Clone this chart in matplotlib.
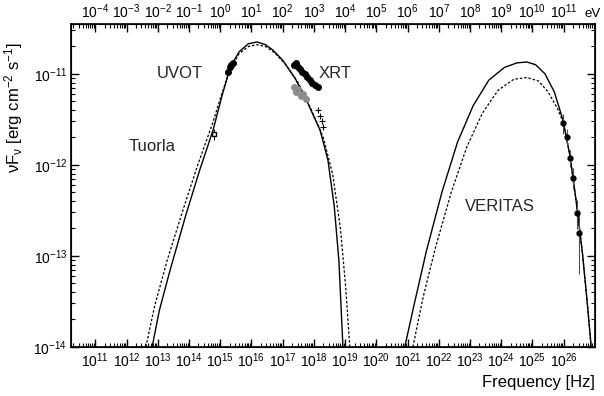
import numpy as np
import matplotlib
matplotlib.use("Agg")
import matplotlib.pyplot as plt
from matplotlib.ticker import LogLocator, NullFormatter

plt.rcParams['font.family'] = ['Liberation Sans', 'DejaVu Sans']
plt.rcParams['mathtext.fontset'] = 'custom'
plt.rcParams['mathtext.rm'] = 'Liberation Sans'
plt.rcParams['mathtext.it'] = 'Liberation Sans:italic'
plt.rcParams['mathtext.default'] = 'regular'

# model curves as (log10 nu, log10 nuFnu)
sync_solid_lognu = [12.82, 13.05, 13.4, 13.9, 14.35, 14.77, 15.05, 15.32, 15.6, 15.9, 16.18,
                    16.45, 16.69, 17.0, 17.4, 17.8, 18.2, 18.45, 18.65, 18.8, 18.93]
sync_solid_logf = [-14.0, -13.6, -13.15, -12.55, -12.05, -11.62, -11.25, -10.93, -10.76, -10.67, -10.65,
                   -10.68, -10.74, -10.85, -11.05, -11.32, -11.62, -11.95, -12.45, -13.05, -14.0]

sync_dash_lognu = [12.62, 12.9, 13.3, 13.85, 14.3, 14.75, 15.05, 15.32, 15.6, 15.9, 16.18,
                   16.45, 16.75, 17.1, 17.5, 17.9, 18.3, 18.6, 18.85, 19.02, 19.15]
sync_dash_logf = [-14.0, -13.55, -13.05, -12.45, -11.98, -11.55, -11.22, -10.95, -10.78, -10.7, -10.68,
                  -10.7, -10.77, -10.9, -11.1, -11.38, -11.7, -12.1, -12.7, -13.35, -14.0]

ic_solid_lognu = [20.91, 21.2, 21.6, 22.1, 22.6, 23.1, 23.6, 24.1, 24.5, 24.82,
                  25.1, 25.4, 25.7, 25.97, 26.2, 26.4, 26.6, 26.75, 26.88]
ic_solid_logf = [-14.0, -13.55, -12.95, -12.3, -11.75, -11.35, -11.07, -10.93, -10.88, -10.87,
                 -10.9, -11.0, -11.2, -11.5, -11.9, -12.4, -12.97, -13.5, -14.0]

ic_dash_lognu = [21.17, 21.5, 21.9, 22.4, 22.9, 23.4, 23.9, 24.4, 24.82,
                 25.2, 25.5, 25.8, 26.0, 26.2, 26.4, 26.6, 26.75, 26.88]
ic_dash_logf = [-14.0, -13.45, -12.9, -12.3, -11.8, -11.43, -11.18, -11.06, -11.04,
                -11.08, -11.2, -11.38, -11.55, -11.9, -12.4, -12.97, -13.5, -14.0]

# data points
tuorla_lognu = [14.8]
tuorla_logf = [-11.66]
uvot_lognu = [15.24, 15.3, 15.36, 15.41]
uvot_logf = [-10.98, -10.93, -10.9, -10.88]
xrt_black_lognu = [17.35, 17.42, 17.48, 17.55, 17.62, 17.7, 17.78, 17.86, 17.95, 18.05, 18.12]
xrt_black_logf = [-10.9, -10.88, -10.92, -10.95, -10.98, -11.0, -11.04, -11.07, -11.1, -11.12, -11.15]
xrt_grey_lognu = [17.35, 17.42, 17.5, 17.58, 17.66, 17.74]
xrt_grey_logf = [-11.15, -11.2, -11.17, -11.24, -11.22, -11.28]
xrt_small_lognu = [18.12, 18.18, 18.25, 18.3]
xrt_small_logf = [-11.4, -11.46, -11.52, -11.58]
veritas_lognu = [25.97, 26.1, 26.19, 26.29, 26.42, 26.5]
veritas_logf = [-11.54, -11.69, -11.92, -12.14, -12.53, -12.75]
veritas_err_lo = [0.12, 0.1, 0.1, 0.12, 0.18, 0.45]
veritas_err_hi = [0.1, 0.08, 0.08, 0.1, 0.14, 0.25]

xticks_hz = list(range(11, 27))
xticks_ev = list(range(-4, 12))
yticks = [-14, -13, -12, -11]


def p(v):
    return 10.0 ** np.asarray(v, dtype=float)


fig = plt.figure(figsize=(6.04, 3.96), dpi=100)
ax = fig.add_axes([0.118, 0.124, 0.867, 0.816])
ax.set_xscale('log')
ax.set_yscale('log')
ax.set_xlim(p(10.23), p(27.0))
ax.set_ylim(p(-14.0), p(-10.45))

ax.plot(p(sync_solid_lognu), p(sync_solid_logf), color='black', lw=1.0)
ax.plot(p(sync_dash_lognu), p(sync_dash_logf), color='black', lw=0.9, ls=(0, (2, 1.5)))
ax.plot(p(ic_solid_lognu), p(ic_solid_logf), color='black', lw=1.0)
ax.plot(p(ic_dash_lognu), p(ic_dash_logf), color='black', lw=0.9, ls=(0, (2, 1.5)))

ax.errorbar(p(tuorla_lognu), p(tuorla_logf), yerr=[[0.3e-12], [0.3e-12]], fmt='s', ms=3,
            mfc='white', mec='black', ecolor='black', elinewidth=0.7, capsize=0)
ax.plot(p(uvot_lognu), p(uvot_logf), 'o', color='black', ms=4)
ax.plot(p(xrt_grey_lognu), p(xrt_grey_logf), 'o', color='0.55', ms=4)
ax.plot(p(xrt_black_lognu), p(xrt_black_logf), 'o', color='black', ms=4)
ax.plot(p(xrt_small_lognu), p(xrt_small_logf), '+', color='black', ms=4, mew=0.8)

vf = np.asarray(veritas_logf)
lo = p(vf) - p(vf - np.asarray(veritas_err_lo))
hi = p(vf + np.asarray(veritas_err_hi)) - p(vf)
ax.errorbar(p(veritas_lognu), p(veritas_logf), yerr=[lo, hi], fmt='o', ms=3.5,
            color='black', ecolor='0.3', elinewidth=0.8, capsize=0)

lab = dict(ha='center', va='center', fontsize=12, color='0.15')
ax.text(p(13.72), p(-11.0), 'UVOT', **lab)
ax.text(p(18.67), p(-11.0), 'XRT', **lab)
ax.text(p(12.82), p(-11.8), 'Tuorla', **lab)
ax.text(p(23.95), p(-12.46), 'VERITAS', **lab)

ax.set_xticks(p(xticks_hz))
ax.set_xticklabels([r'$10^{%d}$' % k for k in xticks_hz])
ax.xaxis.set_minor_locator(LogLocator(base=10, subs=np.arange(2, 10), numticks=100))
ax.xaxis.set_minor_formatter(NullFormatter())
ax.set_yticks(p(yticks))
ax.set_yticklabels([r'$10^{%d}$' % k for k in yticks])
ax.yaxis.set_minor_locator(LogLocator(base=10, subs=np.arange(2, 10), numticks=100))
ax.yaxis.set_minor_formatter(NullFormatter())
ax.tick_params(which='both', direction='in', right=True, top=False, labelsize=10, pad=3)
ax.tick_params(which='major', length=6, width=1.0)
ax.tick_params(which='minor', length=3, width=0.8)

ax.set_xlabel('Frequency [Hz]', loc='right', fontsize=12)
ax.set_ylabel(r'$\nu F_\nu$ [erg cm$^{-2}$ s$^{-1}$]', fontsize=12)
ax.yaxis.set_label_coords(-0.088, 0.74)

# top axis in eV
top = ax.twiny()
top.set_xscale('log')
top.set_xlim(p(10.23 - 15.0), p(27.0 - 15.0))
top.set_xticks(p(xticks_ev))
top.set_xticklabels([r'$10^{%d}$' % k for k in xticks_ev])
top.xaxis.set_minor_locator(LogLocator(base=10, subs=np.arange(2, 10), numticks=100))
top.xaxis.set_minor_formatter(NullFormatter())
top.tick_params(which='both', direction='in', labelsize=10, pad=2)
top.tick_params(which='major', length=6, width=1.0)
top.tick_params(which='minor', length=3, width=0.8)
fig.text(0.968, 0.965, 'eV', ha='left', va='center', fontsize=9.5)

for s in ax.spines.values():
    s.set_linewidth(1.2)

fig.savefig('out.png', dpi=100)
